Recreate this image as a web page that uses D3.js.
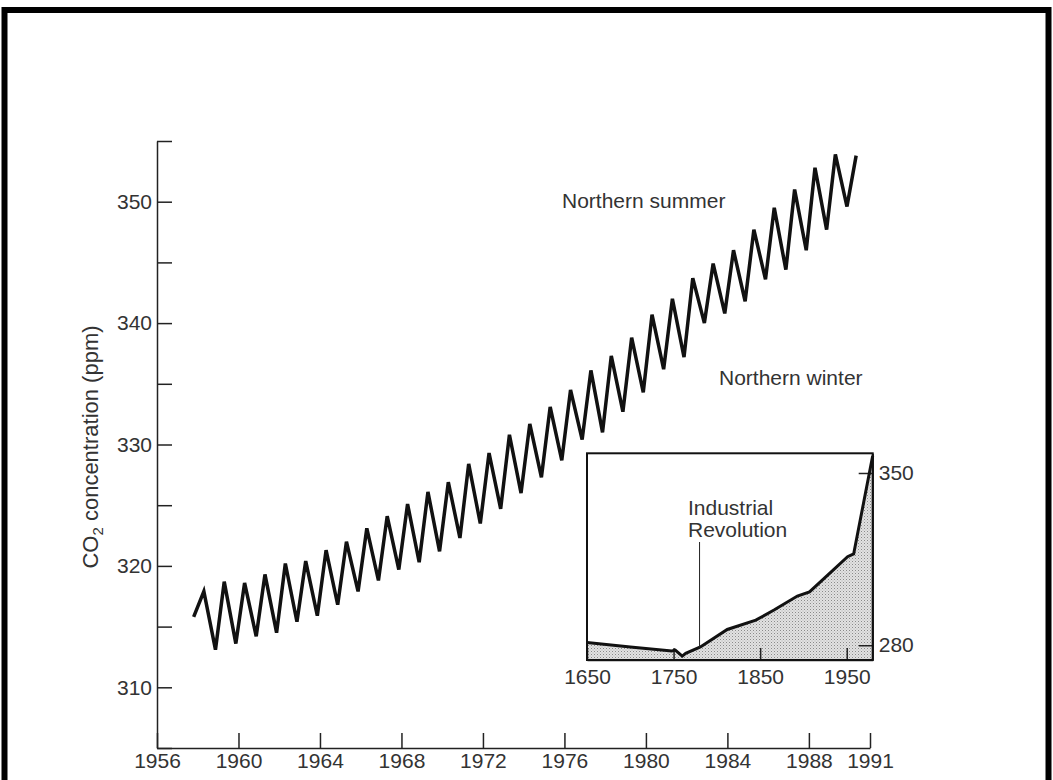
<!DOCTYPE html>
<html>
<head>
<meta charset="utf-8">
<script src="https://cdn.jsdelivr.net/npm/d3@7"></script>
<style>
  html, body { margin: 0; padding: 0; background: #fff; }
  svg { display: block; font-family: "Liberation Sans", Arial, sans-serif; }
  .axis text { font-size: 21px; fill: #333; }
  .axis path, .axis line { stroke: #222; stroke-width: 1.5; }
  .note { font-size: 21px; fill: #333; }
</style>
</head>
<body>
<div id="chart"></div>
<script>
// Mauna Loa seasonal cycle (ppm)
const years = d3.range(1958, 1990);
const peaks = [317.9, 318.7, 318.6, 319.3, 320.2, 320.4, 321.3, 322.0, 323.1, 324.1,
               325.1, 326.1, 326.9, 328.4, 329.3, 330.8, 331.7, 333.1, 334.5, 336.1,
               337.3, 338.8, 340.7, 342.0, 343.7, 344.9, 346.0, 347.7, 349.5, 351.0,
               352.8, 353.9];
const troughs = [313.1, 313.6, 314.2, 314.5, 315.4, 315.9, 316.8, 317.9, 318.8, 319.7,
                 320.3, 321.2, 322.3, 323.5, 324.7, 326.0, 327.3, 328.7, 330.4, 331.0,
                 332.7, 334.3, 336.2, 337.2, 340.0, 340.8, 341.8, 343.6, 344.4, 346.0,
                 347.7, 349.6];
const peakOffset = 0.3, troughOffset = 0.87;
const firstReading = [1957.8, 315.8];
const lastReading = [1990.32, 353.8];

const xTicks = [1956, 1960, 1964, 1968, 1972, 1976, 1980, 1984, 1988, 1991];
const yTicks = d3.range(305, 356, 5);

// inset: long record since 1650
const insetYears  = [1650, 1700, 1748, 1752, 1760, 1764, 1781, 1812, 1845, 1866, 1893, 1907, 1928, 1951, 1958, 1980];
const insetValues = [281.1, 279.3, 277.7, 278.0, 275.6, 276.7, 279.3, 286.4, 290.2, 294.3, 300.0, 301.7, 308.5, 316.0, 317.1, 357.0];
const insetXTicks = [1650, 1750, 1850, 1950];
const insetYTicks = [280, 350];

const width = 1053, height = 780;
const svg = d3.select("#chart").append("svg")
  .attr("width", width).attr("height", height);

// outer frame
svg.append("rect")
  .attr("x", 4.5).attr("y", 10).attr("width", width - 9).attr("height", height + 20)
  .attr("fill", "none").attr("stroke", "#000").attr("stroke-width", 6);

const x = d3.scaleLinear([1956, 1991], [157, 870]);
const y = d3.scaleLinear([305, 355], [748, 141]);

svg.append("g").attr("class", "axis")
  .attr("transform", `translate(${x(1956)},0)`)
  .call(d3.axisLeft(y).tickValues(yTicks).tickSizeInner(-15).tickSizeOuter(0).tickPadding(5)
    .tickFormat(d => (d % 10 === 0 && d > 305 && d < 355) ? d : ""));

svg.append("g").attr("class", "axis")
  .attr("transform", `translate(0,${y(305)})`)
  .call(d3.axisBottom(x).tickValues(xTicks).tickSizeInner(-15).tickSizeOuter(0).tickPadding(5)
    .tickFormat(d3.format("d")));

// y label
const yl = svg.append("text").attr("class", "note")
  .attr("font-size", 22)
  .style("font-size", "22px")
  .attr("transform", `translate(98,447) rotate(-90)`)
  .attr("text-anchor", "middle");
yl.append("tspan").text("CO");
yl.append("tspan").style("font-size", "15px").attr("dy", 5).text("2");
yl.append("tspan").attr("dy", -5).text(" concentration (ppm)");

const series = [firstReading];
years.forEach((yr, i) => {
  series.push([yr + peakOffset, peaks[i]]);
  series.push([yr + troughOffset, troughs[i]]);
});
series.push(lastReading);

svg.append("path")
  .datum(series)
  .attr("fill", "none")
  .attr("stroke", "#111")
  .attr("stroke-width", 3.5)
  .attr("stroke-linejoin", "miter")
  .attr("d", d3.line().x(d => x(d[0])).y(d => y(d[1])));

svg.append("text").attr("class", "note").attr("x", 562).attr("y", 208).text("Northern summer");
svg.append("text").attr("class", "note").attr("x", 719).attr("y", 385).text("Northern winter");

// ---- inset ----
const xi = d3.scaleLinear([1650, 1980], [587, 872.7]);
const yi = d3.scaleLinear([274, 358], [660, 453.3]);

const defs = svg.append("defs");
const pat = defs.append("pattern").attr("id", "stipple")
  .attr("width", 3).attr("height", 3).attr("patternUnits", "userSpaceOnUse");
pat.append("rect").attr("width", 3).attr("height", 3).attr("fill", "#e2e2e2");
pat.append("rect").attr("width", 1).attr("height", 1).attr("fill", "#8a8a8a");
pat.append("rect").attr("x", 1.5).attr("y", 1.5).attr("width", 1).attr("height", 1).attr("fill", "#b0b0b0");

const inset = insetYears.map((yr, i) => [yr, insetValues[i]]);

svg.append("rect")
  .attr("x", xi(1650)).attr("y", yi(358))
  .attr("width", xi(1980) - xi(1650)).attr("height", yi(274) - yi(358))
  .attr("fill", "#fff");

svg.append("path")
  .datum(inset)
  .attr("fill", "url(#stipple)")
  .attr("d", d3.area().x(d => xi(d[0])).y0(yi(274)).y1(d => yi(d[1])));

svg.append("g").attr("class", "axis")
  .attr("transform", `translate(0,${yi(274)})`)
  .call(d3.axisBottom(xi).tickValues(insetXTicks).tickSizeInner(-12).tickSizeOuter(0).tickPadding(9)
    .tickFormat(d3.format("d")));

svg.append("g").attr("class", "axis")
  .attr("transform", `translate(${xi(1980)},0)`)
  .call(d3.axisRight(yi).tickValues(insetYTicks).tickSizeInner(-14).tickSizeOuter(0).tickPadding(6));

svg.append("path")
  .datum(inset)
  .attr("fill", "none")
  .attr("stroke", "#111")
  .attr("stroke-width", 3)
  .attr("d", d3.line().x(d => xi(d[0])).y(d => yi(d[1])));

svg.append("rect")
  .attr("x", xi(1650)).attr("y", yi(358))
  .attr("width", xi(1980) - xi(1650)).attr("height", yi(274) - yi(358))
  .attr("fill", "none").attr("stroke", "#111").attr("stroke-width", 2);

// Industrial Revolution marker
const irYear = 1780;
svg.append("line")
  .attr("x1", xi(irYear)).attr("x2", xi(irYear))
  .attr("y1", 542).attr("y2", yi(279))
  .attr("stroke", "#222").attr("stroke-width", 1);
svg.append("text").attr("class", "note").attr("x", 688).attr("y", 515).text("Industrial");
svg.append("text").attr("class", "note").attr("x", 688).attr("y", 537).text("Revolution");
</script>
</body>
</html>
